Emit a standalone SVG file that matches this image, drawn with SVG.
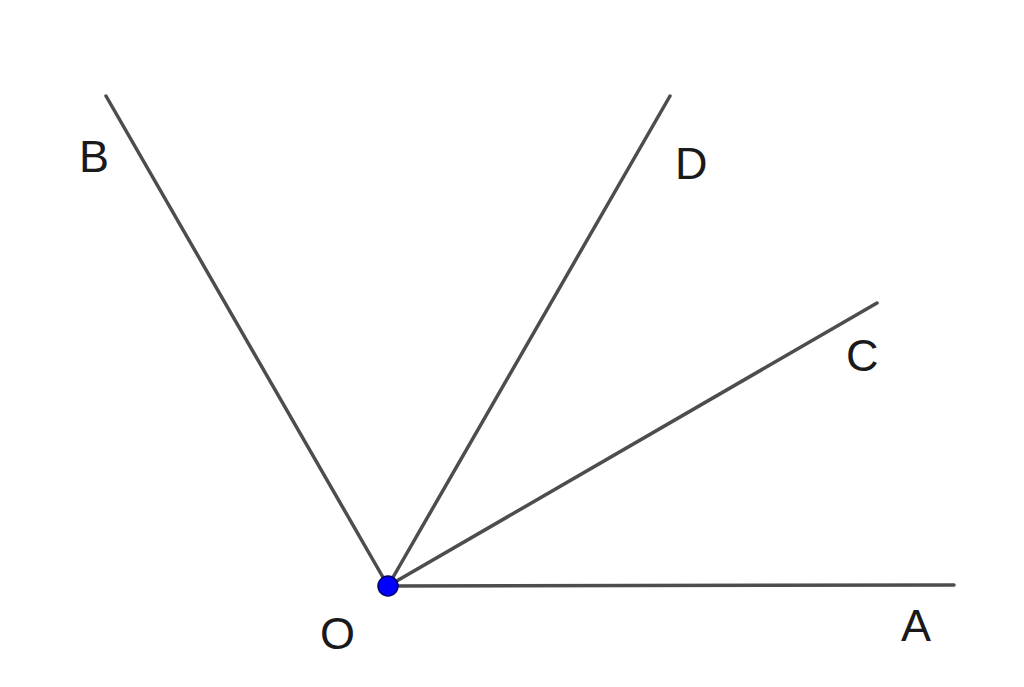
<svg xmlns="http://www.w3.org/2000/svg" width="1024" height="687" viewBox="0 0 1024 687">
<style>
.ray{stroke:#4d4d4d;stroke-width:3.5;stroke-linecap:round;fill:none}
.lbl{font-family:"Liberation Sans",Arial,sans-serif;font-size:45px;fill:#1a1a1a}
</style>
<rect width="1024" height="687" fill="#ffffff"/>
<g id="connectors">
<line class="ray" x1="388" y1="586" x2="106" y2="96"/>
<line class="ray" x1="388" y1="586" x2="670" y2="96"/>
<line class="ray" x1="388" y1="586" x2="877" y2="303"/>
<line class="ray" x1="388" y1="586" x2="954" y2="585"/>
</g>
<g id="O">
<circle cx="388" cy="586" r="10" fill="#0000ff" stroke="#00006a" stroke-width="1.5"/>
<text class="lbl" x="320" y="649">O</text>
</g>
<g id="A"><text class="lbl" x="901" y="641">A</text></g>
<g id="B"><text class="lbl" x="79" y="172">B</text></g>
<g id="C"><text class="lbl" x="846" y="371">C</text></g>
<g id="D"><text class="lbl" x="675" y="179">D</text></g>
</svg>
